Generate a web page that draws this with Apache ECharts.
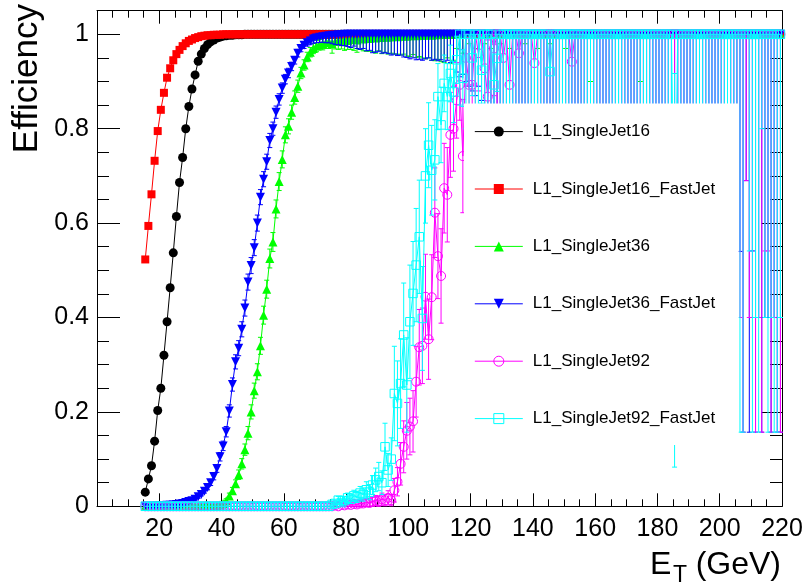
<!DOCTYPE html>
<html>
<head>
<meta charset="utf-8">
<script src="https://cdn.jsdelivr.net/npm/echarts@6/dist/echarts.min.js"></script>
<style>
  html, body { margin: 0; padding: 0; background: #fff; }
  #chart { width: 808px; height: 583px; }
</style>
</head>
<body>
<div id="chart"></div>
<script>
// Trigger efficiency versus offline jet E_T, 1 GeV bins
const etBins = [
  15.5,16.5,17.5,18.5,19.5,20.5,21.5,22.5,23.5,24.5,
  25.5,26.5,27.5,28.5,29.5,30.5,31.5,32.5,33.5,34.5,
  35.5,36.5,37.5,38.5,39.5,40.5,41.5,42.5,43.5,44.5,
  45.5,46.5,47.5,48.5,49.5,50.5,51.5,52.5,53.5,54.5,
  55.5,56.5,57.5,58.5,59.5,60.5,61.5,62.5,63.5,64.5,
  65.5,66.5,67.5,68.5,69.5,70.5,71.5,72.5,73.5,74.5,
  75.5,76.5,77.5,78.5,79.5,80.5,81.5,82.5,83.5,84.5,
  85.5,86.5,87.5,88.5,89.5,90.5,91.5,92.5,93.5,94.5,
  95.5,96.5,97.5,98.5,99.5,100.5,101.5,102.5,103.5,104.5,
  105.5,106.5,107.5,108.5,109.5,110.5,111.5,112.5,113.5,114.5,
  115.5,116.5,117.5,118.5,119.5,120.5,121.5,122.5,123.5,124.5,
  125.5,126.5,127.5,128.5,129.5,130.5,131.5,132.5,133.5,134.5,
  135.5,136.5,137.5,138.5,139.5,140.5,141.5,142.5,143.5,144.5,
  145.5,146.5,147.5,148.5,149.5,150.5,151.5,152.5,153.5,154.5,
  155.5,156.5,157.5,158.5,159.5,160.5,161.5,162.5,163.5,164.5,
  165.5,166.5,167.5,168.5,169.5,170.5,171.5,172.5,173.5,174.5,
  175.5,176.5,177.5,178.5,179.5,180.5,181.5,182.5,183.5,184.5,
  185.5,186.5,187.5,188.5,189.5,190.5,191.5,192.5,193.5,194.5,
  195.5,196.5,197.5,198.5,199.5,200.5,201.5,202.5,203.5,204.5,
  205.5,206.5,207.5,208.5,209.5,210.5,211.5,212.5,213.5,214.5,
  215.5,216.5,217.5,218.5,219.5
];

// L1_SingleJet16
const jet16 = [
  0.030,0.058,0.086,0.138,0.203,0.250,0.320,0.391,0.463,0.537,
  0.614,0.686,0.739,0.800,0.847,0.884,0.914,0.943,0.958,0.970,
  0.978,0.984,0.988,0.992,0.994,0.996,0.997,0.998,0.998,0.999,
  0.999,0.999,1,1,1,1,1,1,1,1,
  1,1,1,1,1,1,1,1,1,1,
  1,1,1,1,1,1,1,1,1,1,
  1,1,1,1,1,1,1,1,1,1,
  1,1,1,1,1,1,1,1,1,1,
  1,1,1,1,1,1,1,1,1,1,
  1,1,1,1,1,1,1,1,1,1,
  1,1,1,1,1,1,1,1,1,1,
  1,1,1,1,1,1,1,1,1,1,
  1,1,1,1,1,1,1,1,1,1,
  1,1,1,1,1,1,1,1,1,1,
  1,1,1,1,1,1,1,1,1,1,
  1,1,1,1,1,1,1,1,1,1,
  1,1,1,1,1,1,1,1,1,1,
  1,1,1,1,1,1,1,1,1,1,
  1,1,1,1,1,1,1,1,1,1,
  1,1,1,1,1,1,1,1,1,1,
  1,1,1,1,1
];

// L1_SingleJet16_FastJet
const jet16Fast = [
  0.523,0.594,0.661,0.732,0.795,0.840,0.876,0.908,0.928,0.945,
  0.958,0.967,0.975,0.981,0.986,0.989,0.992,0.994,0.996,0.997,
  0.998,0.998,0.999,0.999,0.999,1,1,1,1,1,
  1,1,1,1,1,1,1,1,1,1,
  1,1,1,1,1,1,1,1,1,1,
  1,1,1,1,1,1,1,1,1,1,
  1,1,1,1,1,1,1,1,1,1,
  1,1,1,1,1,1,1,1,1,1,
  1,1,1,1,1,1,1,1,1,1,
  1,1,1,1,1,1,1,1,1,1,
  1,1,1,1,1,1,1,1,1,1,
  1,1,1,1,1,1,1,1,1,1,
  1,1,1,1,1,1,1,1,1,1,
  1,1,1,1,1,1,1,1,1,1,
  1,1,1,1,1,1,1,1,1,1,
  1,1,1,1,1,1,1,1,1,1,
  1,1,1,1,1,1,1,1,1,1,
  1,1,1,1,1,1,1,1,1,1,
  1,1,1,1,1,1,1,1,1,1,
  1,1,1,1,1,1,1,1,1,1,
  1,1,1,1,1
];

// L1_SingleJet36
const jet36 = [
  0,0,0,0,0,0,0,0,0,0,
  0,0,0,0,0,0,0,0,0,0,
  0,0,0,0.001,0.003,0.006,0.012,0.022,0.033,0.048,
  0.067,0.090,0.120,0.155,0.200,0.245,0.285,0.340,0.405,0.460,
  0.525,0.560,0.630,0.688,0.735,0.787,0.805,0.835,0.866,0.890,
  0.918,0.935,0.952,0.962,0.970,0.975,0.978,0.980,0.982,0.984,
  0.980,0.985,0.986,0.986,0.988,0.987,0.989,0.990,0.988,0.991,
  0.990,0.992,0.991,0.993,0.992,0.994,0.993,0.995,0.994,0.995,
  0.996,0.995,0.996,0.997,0.996,0.997,0.998,0.997,0.998,0.998,
  0.998,0.999,0.998,0.999,0.999,1,1,1,1,1,
  1,1,1,1,1,1,1,1,1,1,
  1,1,1,1,1,1,1,1,1,1,
  1,1,1,1,1,1,1,1,1,1,
  1,1,1,1,1,1,1,1,1,1,
  1,1,1,1,1,1,1,1,1,1,
  1,1,1,1,1,1,1,1,1,1,
  1,1,1,1,1,1,1,1,1,1,
  1,1,1,1,1,1,1,1,1,1,
  1,1,1,1,1,1,1,1,1,1,
  1,1,1,1,1,1,1,1,1,1,
  1,1,1,1,1
];
const jet36Err = [
  0,0,0,0,0,0,0,0,0,0,
  0,0,0,0,0,0,0,0,0,0,
  0,0,0,0.001,0.002,0.003,0.004,0.006,0.007,0.008,
  0.010,0.011,0.012,0.014,0.015,0.016,0.017,0.018,0.019,0.019,
  0.020,0.020,0.019,0.019,0.018,0.017,0.016,0.015,0.014,0.013,
  0.012,0.011,0.010,0.010,0.011,0.012,0.011,0.013,0.012,0.014,
  0.020,0.016,0.018,0.017,0.022,0.019,0.021,0.024,0.026,0.023,
  0.025,0.028,0.027,0.030,0.032,0.029,0.034,0.033,0.036,0.035,
  0.038,0.037,0.040,0.039,0.042,0.044,0.041,0.046,0.045,0.048,
  0.050,0.049,0.053,0.055,0.052,0.058,0.060,0.050,0.062,0.055,
  0.030,0,0.040,0,0.020,0,0.030,0,0,0.020,
  0,0.030,0,0,0.020,0,0,0.030,0,0,
  0,0,0.020,0,0,0,0.030,0,0,0,
  0.020,0,0,0,0,0.030,0,0,0,0,
  0,0,0,0.100,0,0,0,0,0,0,
  0,0,0,0,0,0,0,0,0,0.100,
  0,0,0,0,0,0,0,0,0,0,
  0,0,0,0,0,0,0,0,0,0,
  0,0,0,0,0,0,0,0,0,0,
  0,0,0,0,0,0,0,0,0,0,
  0,0,0,0,0
];

// L1_SingleJet36_FastJet
const jet36Fast = [
  0,0,0,0,0.001,0.001,0.001,0.002,0.002,0.003,
  0.004,0.005,0.006,0.008,0.010,0.012,0.015,0.020,0.025,0.032,
  0.040,0.050,0.063,0.080,0.105,0.128,0.158,0.202,0.258,0.306,
  0.335,0.375,0.420,0.475,0.510,0.548,0.600,0.655,0.693,0.730,
  0.775,0.800,0.835,0.862,0.886,0.905,0.918,0.932,0.945,0.960,
  0.970,0.977,0.982,0.986,0.990,0.992,0.994,0.995,0.996,0.997,
  0.998,0.998,0.999,0.999,1,1,1,1,1,1,
  1,1,1,1,1,1,1,1,1,1,
  1,1,1,1,1,1,1,1,1,1,
  1,1,1,1,1,1,1,1,1,1,
  1,1,1,1,1,1,1,1,1,1,
  1,1,1,1,1,1,1,1,1,1,
  1,1,1,1,1,1,1,1,1,1,
  1,1,1,1,1,1,1,1,1,1,
  1,1,1,1,1,1,1,1,1,1,
  1,1,1,1,1,1,1,1,1,1,
  1,1,1,1,1,1,1,1,1,1,
  1,1,1,1,1,1,1,1,1,1,
  1,1,1,1,1,1,1,1,1,1,
  1,1,1,1,1,1,1,1,1,1,
  1,1,1,1,1
];
const jet36FastErr = [
  0,0,0,0,0,0,0,0,0,0,
  0,0,0,0,0,0.001,0.002,0.003,0.003,0.004,
  0.005,0.006,0.007,0.008,0.009,0.010,0.011,0.013,0.014,0.015,
  0.016,0.016,0.017,0.017,0.017,0.017,0.017,0.016,0.016,0.016,
  0.015,0.014,0.013,0.012,0.011,0.010,0.010,0.009,0.008,0.008,
  0.007,0.007,0.007,0.008,0.009,0.010,0.011,0.012,0.014,0.015,
  0.018,0.020,0.021,0.023,0.024,0.026,0.028,0.025,0.030,0.032,
  0.030,0.035,0.034,0.039,0.038,0.036,0.040,0.039,0.041,0.044,
  0.042,0.045,0.044,0.048,0.049,0.052,0.050,0.054,0.053,0.055,
  0.052,0.050,0.055,0.053,0.056,0.054,0.058,0.055,0.060,0.058,
  0.080,0.090,0.085,0.100,0.110,0.120,0.130,0.110,0.140,0.150,
  0.160,0.180,0.150,0.200,0.220,0.190,0.250,0.210,0.300,0.280,
  0.310,0.260,0.350,0.300,0.400,0.330,0.370,0.460,0.400,0.350,
  0.460,0.400,0.500,0.460,0.370,0.600,0.460,0.500,0.460,0.600,
  0.500,0.460,0.600,0.540,0.460,0.600,0.500,0.690,0.460,0.600,
  0.600,0.460,0.690,0.600,0.500,0.460,0.600,0.690,0.600,0.460,
  0.690,0.600,0.460,0.600,0.843,0.600,0.690,0.460,0.600,0.690,
  0.600,0.843,0.600,0.690,0.600,0.843,0.460,0.600,0.843,0.600,
  0.843,0.600,0.690,0.843,0.600,0.600,0.843,0.690,0.600,0.843,
  0.600,0.460,0.843,0.310,0.843,0.459,0.843,0.600,0.843,0.600,
  0.600,0.843,0.600,0.843,0.843
];

// L1_SingleJet92
const jet92 = [
  0,0,0,0,0,0,0,0,0,0,
  0,0,0,0,0,0,0,0,0,0,
  0,0,0,0,0,0,0,0,0,0,
  0,0,0,0,0,0,0,0,0,0,
  0,0,0,0,0,0,0,0,0,0,
  0,0,0,0,0,0,0,0,0,0,
  0,0.002,0,0.003,0.002,0.004,0.003,0.005,0.004,0.006,
  0.006,0.008,0.007,0.010,0.012,0.011,0.015,0.013,0.018,0.013,
  0.034,0.052,0.090,0.126,0.160,0.169,0.180,0.264,0.337,0.340,
  0.444,0.354,0.443,0.622,0.530,0.488,0.674,0.660,0.787,0.800,
  0.860,0.893,0.742,0.950,0.893,0.893,1,0.960,1,0.928,
  0.868,1,0.970,1,1,0.950,1,0.893,1,1,
  0.960,1,1,1,1,0.939,1,1,1,1,
  1,1,1,1,1,1,1,0.942,1,1,
  1,1,1,1,1,1,1,1,1,1,
  1,1,1,1,1,1,1,1,1,1,
  1,1,1,1,1,1,1,1,1,1,
  1,1,1,1,1,1,1,1,1,1,
  1,1,1,1,1,1,1,1,1,1,
  1,1,1,1,1,1,1,1,1,1,
  1,1,1,1,1
];
const jet92Err = [
  0,0,0,0,0,0,0,0,0,0,
  0,0,0,0,0,0,0,0,0,0,
  0,0,0,0,0,0,0,0,0,0,
  0,0,0,0,0,0,0,0,0,0,
  0,0,0,0,0,0,0,0,0,0,
  0,0,0,0,0,0,0,0,0,0,
  0,0.003,0,0.004,0.003,0.005,0.004,0.006,0.005,0.007,
  0.007,0.008,0.008,0.010,0.011,0.011,0.013,0.012,0.015,0.012,
  0.025,0.030,0.045,0.055,0.060,0.060,0.065,0.075,0.080,0.080,
  0.090,0.085,0.090,0.095,0.090,0.100,0.095,0.100,0.090,0.090,
  0.080,0.075,0.120,0.060,0.100,0.100,0.150,0.080,0.200,0.100,
  0.120,0.300,0.100,0.350,0.400,0.120,0.460,0.140,0.500,0.600,
  0.120,0.600,0.460,0.700,0.600,0.130,0.460,0.600,0.700,0.600,
  0.460,0.600,0.690,0.460,0.600,0.500,0.690,0.120,0.600,0.460,
  0.600,0.690,0.460,0.600,0.843,0.600,0.460,0.690,0.600,0.500,
  0.690,0.600,0.460,0.600,0.690,0.843,0.600,0.460,0.600,0.690,
  0.600,0.460,0.690,0.600,0.843,0.460,0.600,0.690,0.600,0.460,
  0.843,0.600,0.690,0.460,0.600,0.843,0.600,0.690,0.460,0.600,
  0.600,0.843,0.460,0.600,0.690,0.843,0.600,0.460,0.843,0.600,
  0.600,0.600,0.843,0.310,0.600,0.600,0.843,0.600,0.843,0.459,
  0.459,0.843,0.600,0.843,0.843
];

// L1_SingleJet92_FastJet
const jet92Fast = [
  0,0,0,0,0,0,0,0,0,0,
  0,0,0,0,0,0,0,0,0,0,
  0,0,0,0,0,0,0,0,0,0,
  0,0,0,0,0,0,0,0,0,0,
  0,0,0,0,0,0,0,0,0,0,
  0,0,0,0,0,0,0,0,0,0,
  0.004,0.006,0.013,0.008,0.012,0.018,0.015,0.022,0.020,0.028,
  0.025,0.035,0.030,0.045,0.056,0.063,0.050,0.126,0.077,0.100,
  0.239,0.218,0.260,0.363,0.257,0.391,0.451,0.511,0.571,0.398,
  0.700,0.765,0.712,0.734,0.868,0.808,0.896,0.868,0.917,0.878,
  0.946,1,0.907,1,1,0.950,1,1,0.924,1,
  1,1,0.893,0.949,1,1,1,1,1,1,
  1,1,1,1,1,1,1,1,1,1,
  0.921,1,1,1,1,1,1,1,1,1,
  1,1,1,1,1,1,1,1,1,1,
  1,1,1,1,1,1,1,1,1,1,
  1,1,1,1,1,1,1,1,1,1,
  0.5,1,1,1,1,1,1,1,1,1,
  1,1,1,1,1,1,1,1,1,1,
  1,1,1,1,1,1,1,1,1,1,
  1,1,1,1,1
];
const jet92FastErr = [
  0,0,0,0,0,0,0,0,0,0,
  0,0,0,0,0,0,0,0,0,0,
  0,0,0,0,0,0,0,0,0,0,
  0,0,0,0,0,0,0,0,0,0,
  0,0,0,0,0,0,0,0,0,0,
  0,0,0,0,0,0,0,0,0,0,
  0.004,0.005,0.008,0.006,0.008,0.010,0.009,0.012,0.012,0.014,
  0.014,0.017,0.016,0.020,0.025,0.030,0.025,0.050,0.035,0.045,
  0.100,0.090,0.095,0.110,0.100,0.120,0.110,0.120,0.120,0.110,
  0.100,0.090,0.095,0.085,0.070,0.080,0.060,0.070,0.060,0.065,
  0.050,0.150,0.060,0.200,0.250,0.080,0.300,0.350,0.070,0.400,
  0.460,0.400,0.100,0.070,0.460,0.500,0.600,0.460,0.500,0.600,
  0.460,0.600,0.500,0.690,0.600,0.460,0.600,0.690,0.500,0.600,
  0.080,0.600,0.460,0.690,0.600,0.500,0.600,0.460,0.690,0.600,
  0.600,0.460,0.690,0.600,0.500,0.843,0.600,0.460,0.600,0.690,
  0.460,0.600,0.690,0.600,0.843,0.500,0.600,0.460,0.690,0.600,
  0.600,0.690,0.460,0.843,0.600,0.600,0.460,0.690,0.600,0.843,
  0.417,0.600,0.690,0.460,0.843,0.600,0.600,0.690,0.460,0.600,
  0.843,0.600,0.460,0.690,0.600,0.843,0.600,0.600,0.460,0.843,
  0.600,0.843,0.843,0,0.459,0.843,0.600,0.843,0.200,0.600,
  0.843,0.600,0.843,0.843,0.600
];

const seriesNames = [
  'L1_SingleJet16', 'L1_SingleJet16_FastJet',
  'L1_SingleJet36', 'L1_SingleJet36_FastJet',
  'L1_SingleJet92', 'L1_SingleJet92_FastJet'
];
const xTicks = [20, 40, 60, 80, 100, 120, 140, 160, 180, 200, 220];
const yTicks = [0, 0.2, 0.4, 0.6, 0.8, 1];

const FONT = "'Liberation Sans', Arial, Helvetica, sans-serif";

function points(values) {
  return values.map((v, i) => [etBins[i], v]);
}
// [E_T, lower end, upper end, value] for bins with a non-zero uncertainty
function errorBars(values, errs) {
  const out = [];
  values.forEach((v, i) => {
    const e = errs[i];
    if (e > 0) out.push([etBins[i], Math.max(0, v - e), Math.min(1, v + e), v]);
  });
  return out;
}
function renderErrorBar(color) {
  return function (params, api) {
    const x = api.value(0), lo = api.value(1), hi = api.value(2), v = api.value(3);
    const top = api.coord([x, hi]);
    const bot = api.coord([x, lo]);
    const style = { stroke: color, lineWidth: 1, fill: null };
    const cap = 2.5;
    const children = [
      { type: 'line', shape: { x1: top[0], y1: top[1], x2: bot[0], y2: bot[1] }, style: style }
    ];
    if (hi > v) children.push({ type: 'line', shape: { x1: top[0] - cap, y1: top[1], x2: top[0] + cap, y2: top[1] }, style: style });
    if (lo < v) children.push({ type: 'line', shape: { x1: bot[0] - cap, y1: bot[1], x2: bot[0] + cap, y2: bot[1] }, style: style });
    return { type: 'group', children: children };
  };
}
function errSeries(name, values, errs, color, z) {
  return {
    type: 'custom', name: name + ' err', z: z, silent: true, clip: false,
    data: errorBars(values, errs),
    encode: { x: 0, y: [1, 2] },
    renderItem: renderErrorBar(color)
  };
}
function markerSeries(name, values, color, symbol, size, hollow, rotate, z) {
  return {
    type: 'line', name: name, z: z, silent: true, clip: false,
    data: points(values),
    symbol: symbol, symbolSize: size, symbolRotate: rotate || 0,
    showSymbol: true, showAllSymbol: true,
    lineStyle: { color: color, width: 1 },
    itemStyle: hollow
      ? { color: 'rgba(0,0,0,0)', borderColor: color, borderWidth: 1 }
      : { color: color, borderWidth: 0 },
    emphasis: { disabled: true },
    animation: false
  };
}

const C = { black: '#000000', red: '#ff0000', green: '#00ff00', blue: '#0000ff', magenta: '#ff00ff', cyan: '#00ffff' };

const series = [
  markerSeries(seriesNames[0], jet16, C.black, 'circle', 9, false, 0, 2),
  markerSeries(seriesNames[1], jet16Fast, C.red, 'rect', 8, false, 0, 3),
  errSeries(seriesNames[2], jet36, jet36Err, C.green, 4),
  markerSeries(seriesNames[2], jet36, C.green, 'triangle', 9, false, 0, 5),
  errSeries(seriesNames[3], jet36Fast, jet36FastErr, C.blue, 6),
  markerSeries(seriesNames[3], jet36Fast, C.blue, 'triangle', 9, false, 180, 7),
  errSeries(seriesNames[4], jet92, jet92Err, C.magenta, 8),
  markerSeries(seriesNames[4], jet92, C.magenta, 'circle', 9, true, 0, 9),
  errSeries(seriesNames[5], jet92Fast, jet92FastErr, C.cyan, 10),
  markerSeries(seriesNames[5], jet92Fast, C.cyan, 'rect', 8.5, true, 0, 11)
];

const tickLine = { color: '#000', width: 1 };

const option = {
  animation: false,
  backgroundColor: '#fff',
  grid: { left: 97, right: 26, top: 10.7, bottom: 76.7, outerBoundsMode: 'none' },
  xAxis: [
    {
      type: 'value', position: 'bottom', min: 0, max: 220, interval: 20,
      axisLine: { onZero: false, lineStyle: tickLine },
      axisTick: { inside: true, length: 13, lineStyle: tickLine },
      minorTick: { show: true, splitNumber: 4, length: 7, lineStyle: tickLine },
      splitLine: { show: false },
      axisLabel: {
        margin: 10, fontSize: 25, color: '#000', fontFamily: FONT,
        formatter: v => (xTicks.indexOf(v) >= 0 ? String(v) : '')
      }
    },
    {
      type: 'value', position: 'top', min: 0, max: 220, interval: 20,
      axisLine: { onZero: false, lineStyle: tickLine },
      axisTick: { inside: true, length: 13, lineStyle: tickLine },
      minorTick: { show: true, splitNumber: 4, length: 7, lineStyle: tickLine },
      splitLine: { show: false },
      axisLabel: { show: false }
    }
  ],
  yAxis: [
    {
      type: 'value', position: 'left', min: 0, max: 1.05, interval: 0.2,
      axisLine: { onZero: false, lineStyle: tickLine },
      axisTick: { inside: true, length: 23, lineStyle: tickLine },
      minorTick: { show: true, splitNumber: 4, length: 12, lineStyle: tickLine },
      splitLine: { show: false },
      axisLabel: {
        margin: 8, fontSize: 25, color: '#000', fontFamily: FONT,
        formatter: v => {
          const k = yTicks.findIndex(t => Math.abs(t - v) < 1e-6);
          return k >= 0 ? String(yTicks[k]) : '';
        }
      }
    },
    {
      type: 'value', position: 'right', min: 0, max: 1.05, interval: 0.2,
      axisLine: { onZero: false, lineStyle: tickLine },
      axisTick: { inside: true, length: 21, lineStyle: tickLine },
      minorTick: { show: true, splitNumber: 4, length: 12, lineStyle: tickLine },
      splitLine: { show: false },
      axisLabel: { show: false }
    }
  ],
  legend: {
    data: seriesNames,
    orient: 'vertical',
    left: 464, top: 103.5,
    itemWidth: 48, itemHeight: 12.5, itemGap: 40.4,
    padding: [19.6, 23.5, 17.9, 10.3],
    backgroundColor: '#fff',
    borderWidth: 0,
    selectedMode: false,
    z: 20,
    textStyle: { fontFamily: FONT, fontSize: 17, color: '#000', padding: [0, 0, 0, 5] },
    itemStyle: { borderWidth: 'inherit' },
    lineStyle: { width: 'inherit' }
  },
  graphic: [
    {
      type: 'text', x: 27, y: 4, rotation: Math.PI / 2, z: 30,
      style: { text: 'Efficiency', font: '35px ' + FONT, fill: '#000',
               textAlign: 'right', textVerticalAlign: 'middle', align: 'right', verticalAlign: 'middle' }
    },
    {
      type: 'text', x: 650, y: 565.4, z: 30,
      style: { text: 'E', font: '32px ' + FONT, fill: '#000',
               textAlign: 'left', textVerticalAlign: 'middle', align: 'left', verticalAlign: 'middle' }
    },
    {
      type: 'text', x: 673, y: 576, z: 30,
      style: { text: 'T', font: '23px ' + FONT, fill: '#000',
               textAlign: 'left', textVerticalAlign: 'middle', align: 'left', verticalAlign: 'middle' }
    },
    {
      type: 'text', x: 781, y: 565.4, z: 30,
      style: { text: '(GeV)', font: '32px ' + FONT, fill: '#000',
               textAlign: 'right', textVerticalAlign: 'middle', align: 'right', verticalAlign: 'middle' }
    }
  ],
  series: series
};

const chart = echarts.init(document.getElementById('chart'), null, { renderer: 'canvas' });
chart.setOption(option);
</script>
</body>
</html>
